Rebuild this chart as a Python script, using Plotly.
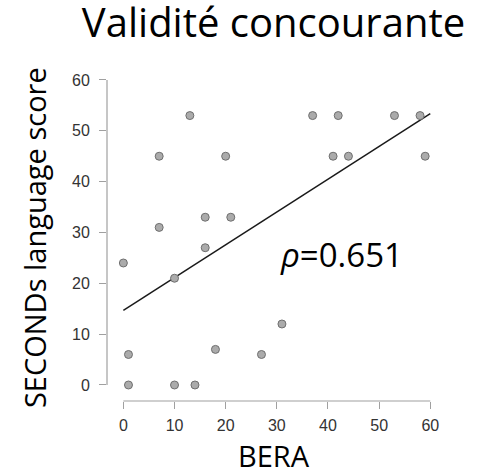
import numpy as np
import plotly.graph_objects as go

bera = [0, 1, 1, 7, 16, 21, 16, 10, 10, 14, 18, 27, 31, 13, 7, 20, 37, 42, 53, 58, 41, 44, 59]
seconds = [24, 6, 0, 31, 33, 33, 27, 21, 0, 0, 7, 6, 12, 53, 45, 45, 53, 53, 53, 53, 45, 45, 45]
x_ticks = [0, 10, 20, 30, 40, 50, 60]
y_ticks = [0, 10, 20, 30, 40, 50, 60]
rho_text = "<i>ρ</i>=0.651"

slope, intercept = np.polyfit(bera, seconds, 1)
line_x = [min(x_ticks), max(x_ticks)]
line_y = [intercept + slope * v for v in line_x]

fig = go.Figure()
fig.add_trace(go.Scatter(x=line_x, y=line_y, mode="lines",
                         line=dict(color="#1a1a1a", width=1.5), hoverinfo="skip"))
fig.add_trace(go.Scatter(x=bera, y=seconds, mode="markers",
                         marker=dict(size=8, color="#ababab",
                                     line=dict(color="#6f6f6f", width=1))))

axis_col = "#a0a0a0"
fig.add_shape(type="line", xref="x", yref="paper", x0=x_ticks[0], x1=x_ticks[-1], y0=0, y1=0,
              line=dict(color=axis_col, width=1.2))
fig.add_shape(type="line", xref="paper", yref="y", x0=0, x1=0, y0=y_ticks[0], y1=y_ticks[-1],
              line=dict(color=axis_col, width=1.2))

fig.add_annotation(x=0.515, y=0.45, xref="paper", yref="paper", text=rho_text, showarrow=False,
                   xanchor="left", yanchor="middle",
                   font=dict(family="Open Sans", size=33, color="black"))
fig.add_annotation(x=0.5, y=-0.166, xref="paper", yref="paper", text="BERA", showarrow=False,
                   xanchor="center", yanchor="middle",
                   font=dict(family="Open Sans", size=29, color="black"))
fig.add_annotation(x=-0.219, y=0.5, xref="paper", yref="paper", text="SECONDs language score",
                   showarrow=False, textangle=-90, xanchor="center", yanchor="middle",
                   font=dict(family="Open Sans", size=29, color="black"))

fig.update_layout(
    width=479, height=470,
    margin=dict(l=107, r=39, t=75, b=69, autoexpand=False),
    plot_bgcolor="white", paper_bgcolor="white",
    showlegend=False,
    title=dict(text="Validité concourante", x=0.571, xanchor="center", y=0.952, yanchor="middle",
               font=dict(family="Open Sans", size=40, color="black")),
    xaxis=dict(range=[-3.2, 61.9], tickvals=x_ticks, ticks="outside", ticklen=7,
               tickcolor=axis_col, showline=False, showgrid=False, zeroline=False,
               ticklabelstandoff=3, automargin=False,
               tickfont=dict(family="Liberation Sans", size=16, color="#333333")),
    yaxis=dict(range=[-3.15, 60.98], tickvals=y_ticks, ticks="outside", ticklen=7,
               tickcolor=axis_col, showline=False, showgrid=False, zeroline=False,
               ticklabelstandoff=6, automargin=False,
               tickfont=dict(family="Liberation Sans", size=16, color="#333333")),
)

fig.write_html("out.html")
